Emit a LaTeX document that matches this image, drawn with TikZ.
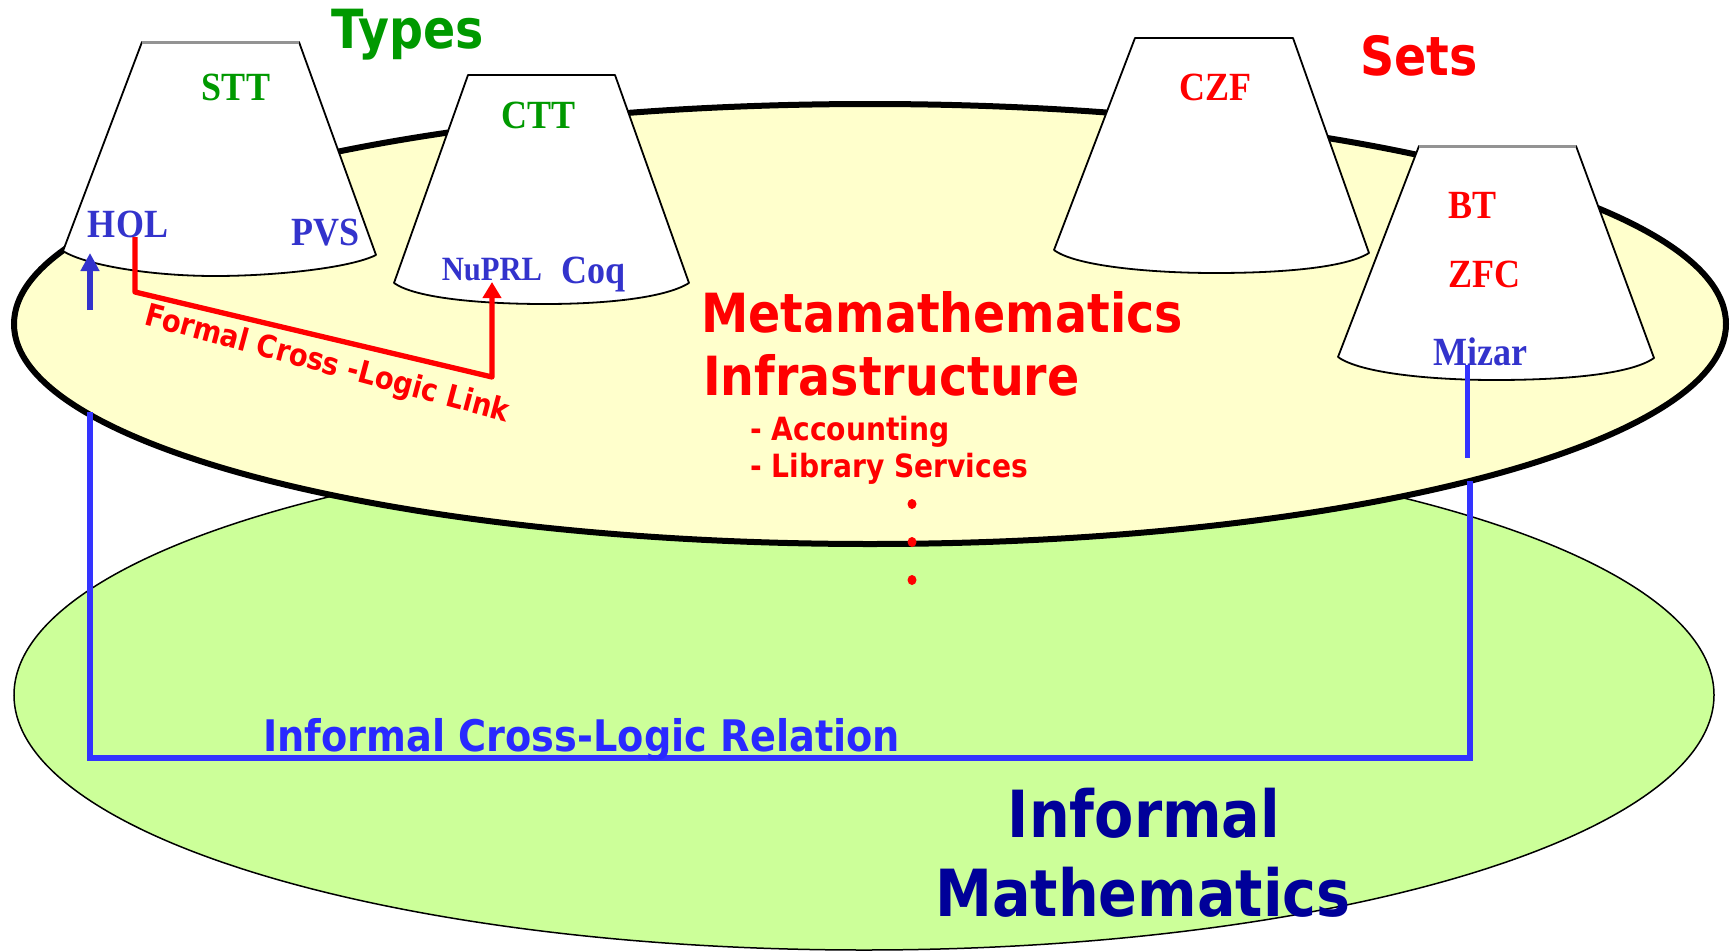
\documentclass[tikz,border=0pt]{standalone}
\usepackage{fontspec}
\usetikzlibrary{arrows.meta,shapes.geometric}
\newfontfamily\sansb[FakeStretch=0.88]{DejaVu Sans Bold}
\newfontfamily\serifb[FakeStretch=0.9]{Liberation Serif Bold}
\definecolor{tgreen}{RGB}{0,153,0}
\definecolor{tred}{RGB}{255,0,0}
\definecolor{tblue}{RGB}{51,51,204}
\definecolor{lblue}{RGB}{51,51,255}
\definecolor{navy}{RGB}{0,0,153}
\definecolor{yfill}{RGB}{255,255,204}
\definecolor{gfill}{RGB}{204,255,153}
\begin{document}
\begin{tikzpicture}[x=1pt,y=-1pt,
  cone/.style={draw=black,fill=white,line width=1.8pt,line join=round},
  conetop/.style={draw=gray!85,line width=3pt},
  lbl/.style={inner sep=0pt,anchor=base},
  lblw/.style={inner sep=0pt,anchor=base west},
  serifl/.style={lbl,font=\serifb\fontsize{40}{48}\selectfont},
  bigsans/.style={font=\sansb\fontsize{54}{62}\selectfont},
  metasans/.style={font=\sansb\fontsize{54}{62}\selectfont,text=tred},
  subsans/.style={font=\sansb\fontsize{32}{38}\selectfont,text=tred},
  relv/.style={draw=lblue,line width=5.5pt},
  relh/.style={draw=lblue,line width=6pt},
  redlink/.style={draw=tred,line width=5.3pt,line join=round,-{Triangle[length=16pt,width=18pt]}},
  bluearrow/.style={draw=tblue,line width=6pt,-{Triangle[length=18pt,width=18pt]}},
  reddot/.style={fill=tred,draw=none,ellipse,inner sep=0pt,minimum width=9pt,minimum height=10pt}
]
\useasboundingbox (0,0) rectangle (1733,951);
\fill[white] (0,0) rectangle (1733,951);

% ellipses
\draw[fill=gfill,line width=1.5pt] (864,695) ellipse [x radius=850, y radius=255];
\draw[fill=yfill,line width=6pt] (870,324) ellipse [x radius=856, y radius=220];

% informal cross-logic relation
\coordinate (relL) at (90,412);
\coordinate (relR) at (1470,481);
\coordinate (cornL) at (90,758);
\coordinate (cornR) at (1470,758);
\draw[relv] (relL) -- (cornL);
\draw[relv] (relR) -- (cornR);
\draw[relh] ([xshift=-2.75pt]cornL) -- ([xshift=2.75pt]cornR);

% cones
\draw[cone] (142,42) -- (299,42) -- (376,255)
  .. controls (350,268) and (275,276) .. (215,276)
  .. controls (150,276) and (85,265) .. (63,251) -- cycle;
\draw[conetop] (142,42) -- (299,42);
\draw[cone] (468,75) -- (615,75) -- (689,283)
  .. controls (665,298) and (605,304) .. (545,304)
  .. controls (480,304) and (415,298) .. (394,283) -- cycle;
\draw[cone] (1135,38) -- (1293,38) -- (1369,253)
  .. controls (1345,268) and (1280,273) .. (1215,273)
  .. controls (1150,273) and (1075,266) .. (1054,250) -- cycle;
\draw[cone] (1419,146) -- (1576,146) -- (1654,358)
  .. controls (1630,375) and (1560,380) .. (1495,380)
  .. controls (1430,380) and (1360,373) .. (1338,357) -- cycle;
\draw[conetop] (1419,146) -- (1576,146);

% titles
\node[lbl,bigsans,text=tgreen] (types) at (408,48) {Types};
\node[lbl,bigsans,text=tred] (sets) at (1419,75) {Sets};

% serif labels
\node[serifl,text=tgreen] (stt) at (236,100) {STT};
\node[serifl,text=tblue] (hol) at (128,237) {HOL};
\node[serifl,text=tblue] (pvs) at (326,245) {PVS};
\node[serifl,text=tgreen] (ctt) at (539,128) {CTT};
\node[lbl,font=\serifb\fontsize{34}{40}\selectfont,text=tblue] (nuprl) at (492,280) {NuPRL};
\node[serifl,text=tblue] (coq) at (594,283) {Coq};
\node[serifl,text=tred] (czf) at (1215,100) {CZF};
\node[serifl,text=tred] (bt) at (1472,218) {BT};
\node[serifl,text=tred] (zfc) at (1484,287) {ZFC};
\node[serifl,text=tblue] (mizar) at (1480,365) {Mizar};

% metamathematics text
\node[lblw,metasans] (meta) at (701,332) {Metamathematics};
\node[lblw,metasans] (infra) at (703,395) {Infrastructure};
\node[lblw,subsans] (acc) at (750,440) {- Accounting};
\node[lblw,subsans] (lib) at (750,477) {- Library Services};
\node[reddot] (d1) at (912,504) {};
\node[reddot] (d2) at (912,542) {};
\node[reddot] (d3) at (912,580) {};

% Mizar link down
\coordinate (mizfoot) at (1467,365);
\coordinate (mizend) at (1467,458);
\draw[draw=lblue,line width=5pt] (mizfoot) -- (mizend);

% formal cross-logic link
\coordinate (holfoot) at (135,237);
\coordinate (bendA) at (135,292);
\coordinate (bendB) at (492,377);
\coordinate (nuprltip) at (492,282);
\draw[redlink] (holfoot) -- (bendA) -- (bendB) -- (nuprltip);
\node[inner sep=0pt,font=\sansb\fontsize{31}{36}\selectfont,text=tred,rotate=-15] (fcl) at (327,365) {Formal Cross -Logic Link};

% HOL arrow
\coordinate (holtail) at (90,310);
\coordinate (holtip) at (90,253);
\draw[bluearrow] (holtail) -- (holtip);

% bottom labels
\node[lblw,font=\sansb\fontsize{43.5}{50}\selectfont,text=lblue!80!blue] (icl) at (263,751) {Informal Cross-Logic Relation};
\node[lbl,font=\sansb\fontsize{65}{72}\selectfont,text=navy] (inf) at (1144,837) {Informal};
\node[lbl,font=\sansb\fontsize{65}{72}\selectfont,text=navy] (math) at (1143,916) {Mathematics};
\end{tikzpicture}
\end{document}
